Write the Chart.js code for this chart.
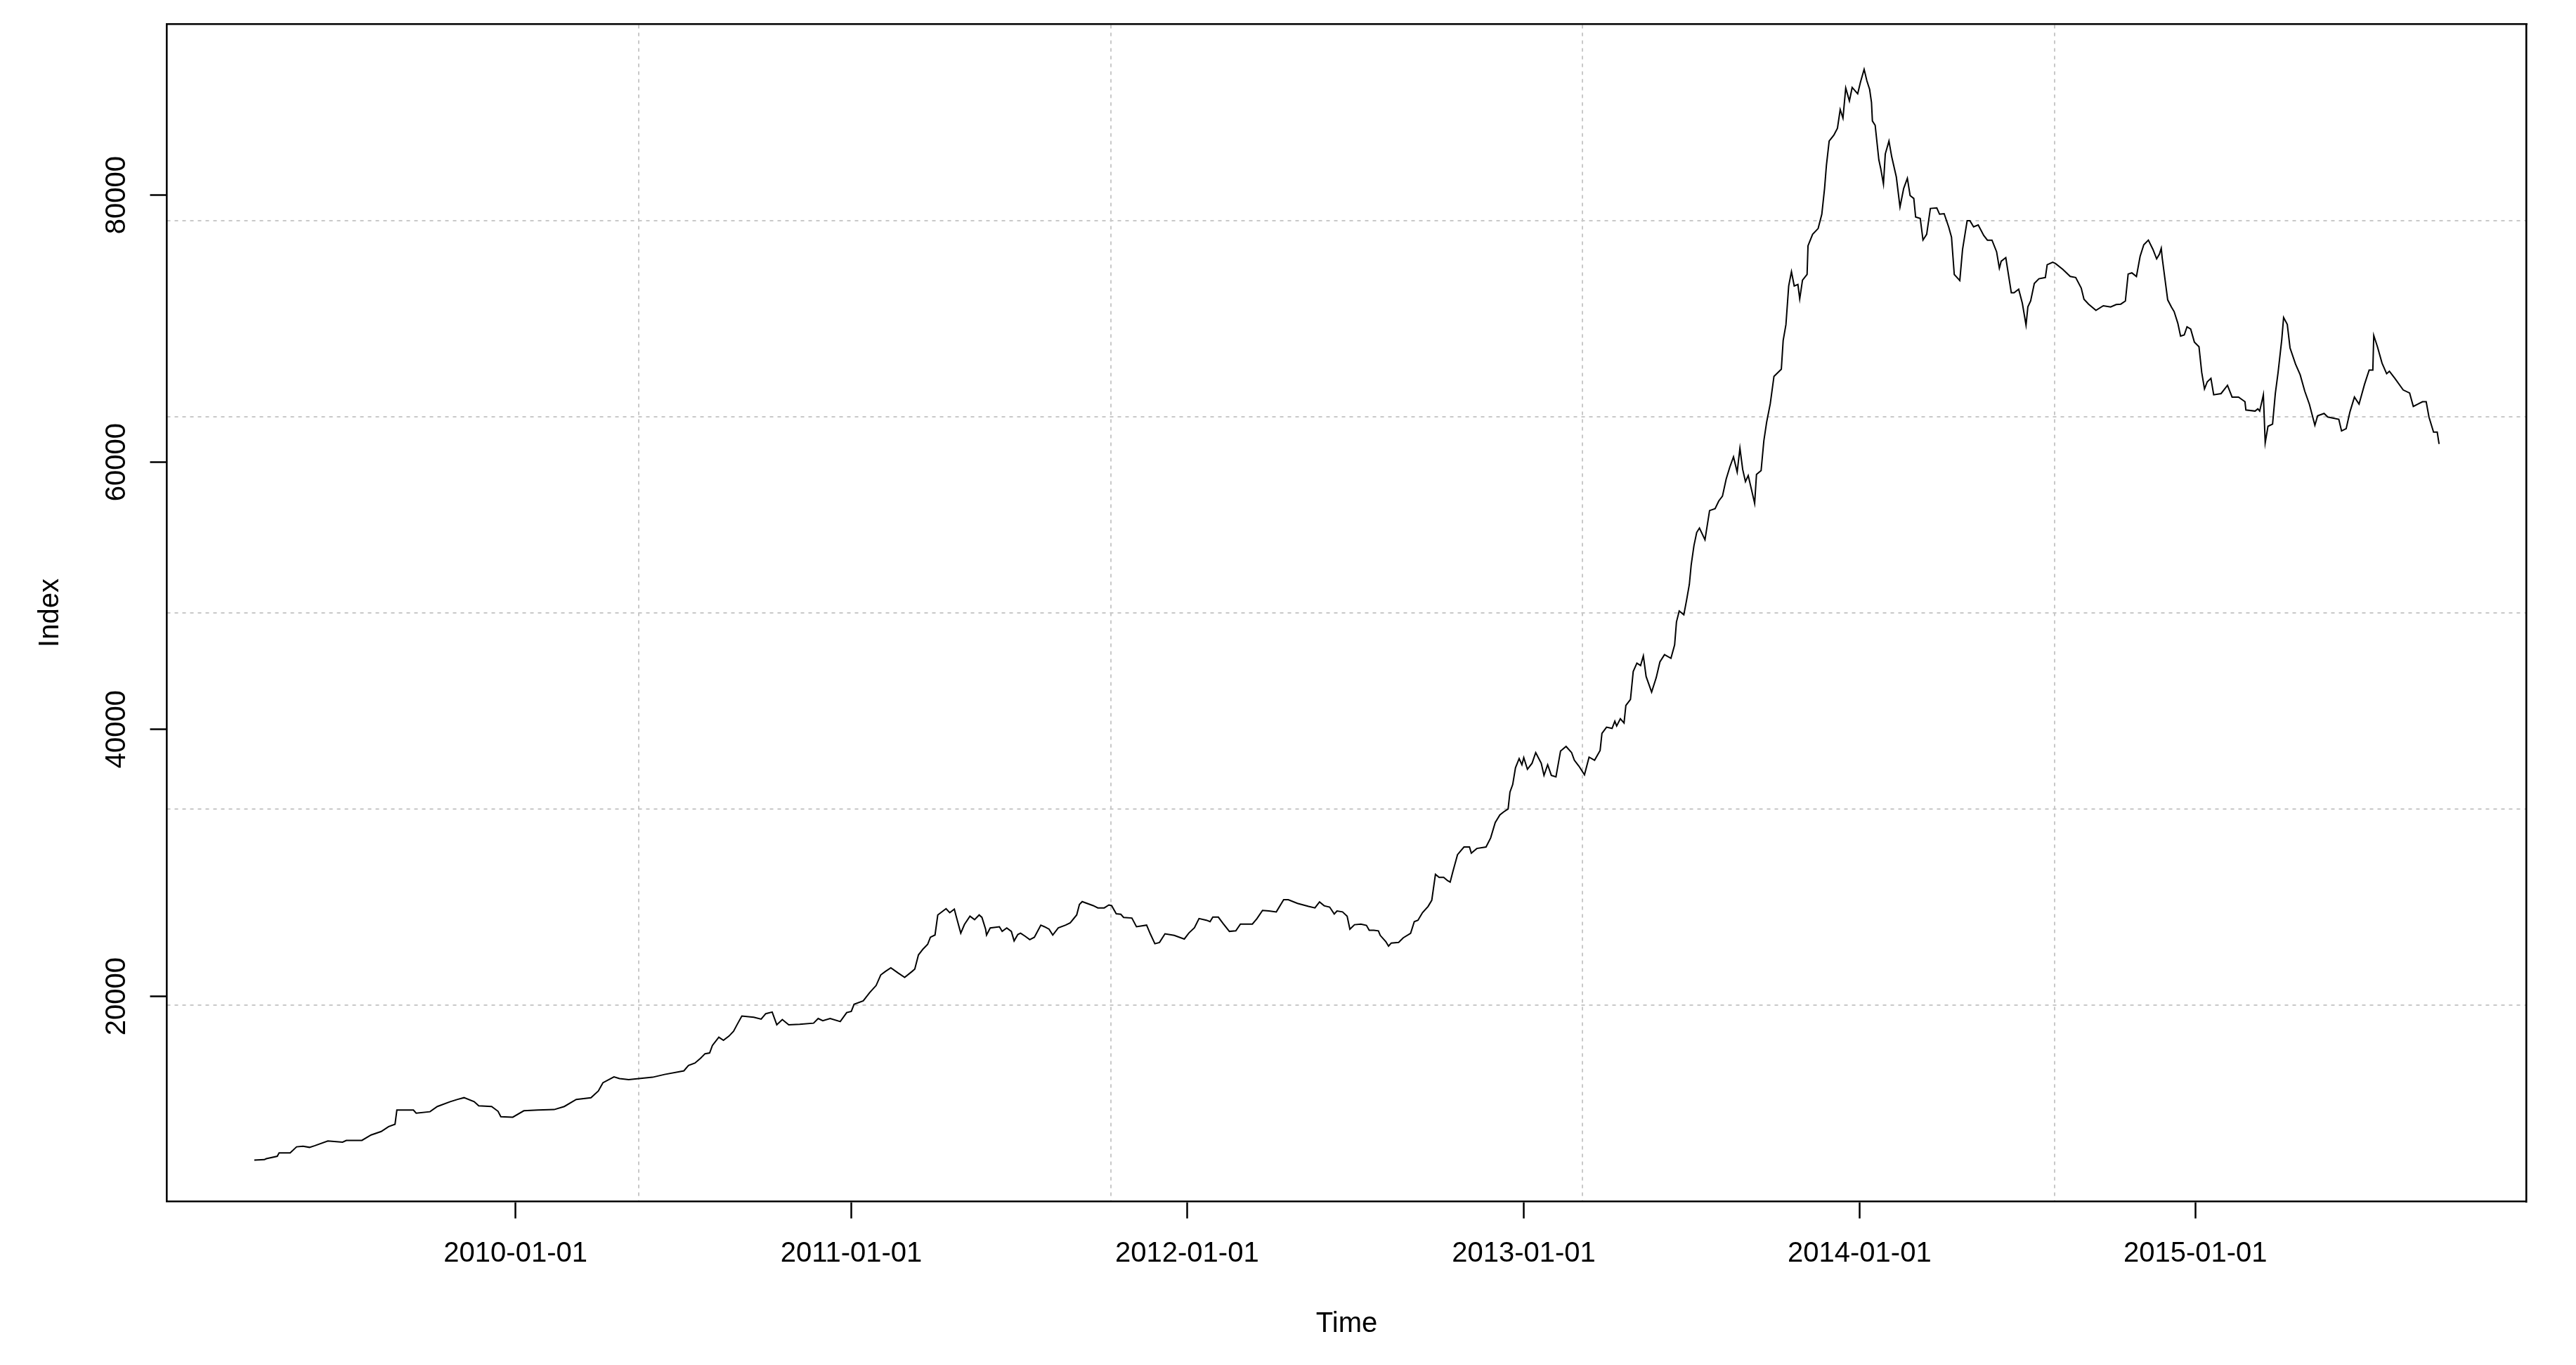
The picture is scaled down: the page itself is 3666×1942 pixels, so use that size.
<!DOCTYPE html>
<html>
<head>
<meta charset="utf-8">
<title>Index</title>
<script src="https://cdn.jsdelivr.net/npm/chart.js@4.4.1/dist/chart.umd.min.js"></script>
<style>
  html, body { margin: 0; padding: 0; background: #fff; }
  canvas { display: block; }
</style>
</head>
<body>
<canvas id="chart" width="3666" height="1942"></canvas>
<script>
// series
const dates = [
  '2009-03-23', '2009-04-03', '2009-04-05', '2009-04-17', '2009-04-19', '2009-05-01', '2009-05-08', '2009-05-15',
  '2009-05-22', '2009-05-28', '2009-06-11', '2009-06-27', '2009-07-01', '2009-07-18', '2009-07-28', '2009-08-08',
  '2009-08-16', '2009-08-23', '2009-08-25', '2009-09-12', '2009-09-15', '2009-09-30', '2009-10-08', '2009-10-22',
  '2009-10-30', '2009-11-06', '2009-11-17', '2009-11-22', '2009-12-06', '2009-12-13', '2009-12-16', '2009-12-29',
  '2010-01-10', '2010-01-25', '2010-02-12', '2010-02-23', '2010-03-08', '2010-03-24', '2010-04-01', '2010-04-06',
  '2010-04-18', '2010-04-24', '2010-05-04', '2010-05-30', '2010-06-12', '2010-07-03', '2010-07-08', '2010-07-15',
  '2010-07-21', '2010-07-26', '2010-07-31', '2010-08-03', '2010-08-10', '2010-08-15', '2010-08-21', '2010-08-26',
  '2010-08-30', '2010-09-04', '2010-09-17', '2010-09-25', '2010-09-30', '2010-10-07', '2010-10-12', '2010-10-18',
  '2010-10-25', '2010-11-06', '2010-11-21', '2010-11-26', '2010-12-01', '2010-12-09', '2010-12-20', '2010-12-27',
  '2011-01-01', '2011-01-04', '2011-01-14', '2011-01-21', '2011-01-28', '2011-02-02', '2011-02-07', '2011-02-13',
  '2011-02-21', '2011-02-28', '2011-03-08', '2011-03-11', '2011-03-15', '2011-03-20', '2011-03-25', '2011-03-28',
  '2011-04-02', '2011-04-05', '2011-04-14', '2011-04-18', '2011-04-23', '2011-04-25', '2011-04-30', '2011-05-04',
  '2011-05-10', '2011-05-15', '2011-05-20', '2011-05-23', '2011-05-27', '2011-05-28', '2011-06-01', '2011-06-11',
  '2011-06-14', '2011-06-19', '2011-06-24', '2011-06-27', '2011-07-01', '2011-07-04', '2011-07-09', '2011-07-14',
  '2011-07-19', '2011-07-26', '2011-07-30', '2011-08-04', '2011-08-08', '2011-08-14', '2011-08-22', '2011-08-27',
  '2011-09-03', '2011-09-06', '2011-09-09', '2011-09-21', '2011-09-26', '2011-10-03', '2011-10-08', '2011-10-11',
  '2011-10-16', '2011-10-21', '2011-10-24', '2011-11-02', '2011-11-07', '2011-11-18', '2011-11-22', '2011-11-27',
  '2011-12-02', '2011-12-08', '2011-12-18', '2011-12-29', '2012-01-03', '2012-01-09', '2012-01-14', '2012-01-22',
  '2012-01-26', '2012-01-29', '2012-02-04', '2012-02-09', '2012-02-16', '2012-02-23', '2012-02-28', '2012-03-12',
  '2012-03-17', '2012-03-23', '2012-03-30', '2012-04-07', '2012-04-15', '2012-04-20', '2012-04-30', '2012-05-12',
  '2012-05-19', '2012-05-24', '2012-05-29', '2012-06-04', '2012-06-09', '2012-06-12', '2012-06-18', '2012-06-23',
  '2012-06-26', '2012-07-01', '2012-07-08', '2012-07-14', '2012-07-17', '2012-07-22', '2012-07-27', '2012-07-29',
  '2012-08-04', '2012-08-07', '2012-08-10', '2012-08-18', '2012-08-23', '2012-08-31', '2012-09-04', '2012-09-08',
  '2012-09-13', '2012-09-19', '2012-09-23', '2012-09-27', '2012-10-01', '2012-10-06', '2012-10-10', '2012-10-13',
  '2012-10-16', '2012-10-21', '2012-10-28', '2012-11-03', '2012-11-05', '2012-11-11', '2012-11-21', '2012-11-26',
  '2012-12-01', '2012-12-06', '2012-12-10', '2012-12-15', '2012-12-17', '2012-12-20', '2012-12-23', '2012-12-27',
  '2012-12-30', '2013-01-01', '2013-01-05', '2013-01-10', '2013-01-14', '2013-01-20', '2013-01-23', '2013-01-27',
  '2013-01-31', '2013-02-05', '2013-02-10', '2013-02-16', '2013-02-22', '2013-02-25', '2013-03-02', '2013-03-08',
  '2013-03-13', '2013-03-19', '2013-03-25', '2013-03-27', '2013-04-01', '2013-04-07', '2013-04-10', '2013-04-12',
  '2013-04-16', '2013-04-20', '2013-04-22', '2013-04-27', '2013-04-30', '2013-05-04', '2013-05-08', '2013-05-11',
  '2013-05-14', '2013-05-20', '2013-05-25', '2013-05-29', '2013-06-03', '2013-06-10', '2013-06-14', '2013-06-16',
  '2013-06-19', '2013-06-24', '2013-06-27', '2013-06-30', '2013-07-02', '2013-07-05', '2013-07-08', '2013-07-11',
  '2013-07-17', '2013-07-22', '2013-07-28', '2013-08-01', '2013-08-05', '2013-08-09', '2013-08-13', '2013-08-17',
  '2013-08-21', '2013-08-24', '2013-08-27', '2013-08-30', '2013-09-02', '2013-09-06', '2013-09-09', '2013-09-11',
  '2013-09-16', '2013-09-19', '2013-09-22', '2013-09-26', '2013-09-30', '2013-10-08', '2013-10-10', '2013-10-13',
  '2013-10-16', '2013-10-19', '2013-10-22', '2013-10-26', '2013-10-28', '2013-10-31', '2013-11-05', '2013-11-06',
  '2013-11-11', '2013-11-17', '2013-11-21', '2013-11-24', '2013-11-26', '2013-11-29', '2013-12-04', '2013-12-08',
  '2013-12-11', '2013-12-14', '2013-12-17', '2013-12-21', '2013-12-24', '2013-12-30', '2014-01-02', '2014-01-06',
  '2014-01-09', '2014-01-12', '2014-01-14', '2014-01-15', '2014-01-18', '2014-01-22', '2014-01-24', '2014-01-27',
  '2014-01-29', '2014-02-02', '2014-02-05', '2014-02-10', '2014-02-14', '2014-02-18', '2014-02-22', '2014-02-25',
  '2014-03-01', '2014-03-03', '2014-03-08', '2014-03-11', '2014-03-15', '2014-03-19', '2014-03-26', '2014-03-29',
  '2014-04-03', '2014-04-08', '2014-04-11', '2014-04-14', '2014-04-16', '2014-04-20', '2014-04-23', '2014-04-28',
  '2014-05-01', '2014-05-05', '2014-05-10', '2014-05-16', '2014-05-20', '2014-05-25', '2014-05-30', '2014-06-02',
  '2014-06-04', '2014-06-09', '2014-06-15', '2014-06-18', '2014-06-23', '2014-06-27', '2014-07-01', '2014-07-03',
  '2014-07-06', '2014-07-10', '2014-07-15', '2014-07-22', '2014-07-24', '2014-07-30', '2014-08-02', '2014-08-10',
  '2014-08-18', '2014-08-24', '2014-08-30', '2014-09-02', '2014-09-07', '2014-09-15', '2014-09-23', '2014-10-01',
  '2014-10-07', '2014-10-12', '2014-10-17', '2014-10-20', '2014-10-24', '2014-10-29', '2014-11-02', '2014-11-06',
  '2014-11-11', '2014-11-16', '2014-11-20', '2014-11-23', '2014-11-25', '2014-11-26', '2014-11-29', '2014-12-02',
  '2014-12-06', '2014-12-09', '2014-12-13', '2014-12-16', '2014-12-20', '2014-12-23', '2014-12-27', '2014-12-31',
  '2015-01-05', '2015-01-08', '2015-01-11', '2015-01-14', '2015-01-18', '2015-01-21', '2015-01-29', '2015-02-05',
  '2015-02-10', '2015-02-17', '2015-02-24', '2015-02-25', '2015-03-07', '2015-03-10', '2015-03-12', '2015-03-16',
  '2015-03-18', '2015-03-21', '2015-03-26', '2015-03-29', '2015-04-01', '2015-04-05', '2015-04-07', '2015-04-11',
  '2015-04-14', '2015-04-20', '2015-04-25', '2015-04-30', '2015-05-05', '2015-05-11', '2015-05-14', '2015-05-21',
  '2015-05-25', '2015-06-06', '2015-06-09', '2015-06-14', '2015-06-18', '2015-06-23', '2015-06-28', '2015-07-04',
  '2015-07-09', '2015-07-13', '2015-07-14', '2015-07-18', '2015-07-23', '2015-07-28', '2015-07-31', '2015-08-06',
  '2015-08-15', '2015-08-22', '2015-08-26', '2015-08-31', '2015-09-05', '2015-09-09', '2015-09-12', '2015-09-17',
  '2015-09-21', '2015-09-23'
];

const index = [
  7750, 7780, 7850, 8030, 8290, 8290, 8740, 8780,
  8700, 8830, 9180, 9090, 9220, 9220, 9630, 9890,
  10250, 10430, 11490, 11490, 11260, 11370, 11760, 12120,
  12290, 12420, 12120, 11810, 11760, 11400, 11000, 10960,
  11440, 11490, 11530, 11760, 12290, 12420, 12920, 13540,
  13980, 13850, 13770, 13950, 14160, 14430, 14830, 15010,
  15360, 15710, 15770, 16330, 16950, 16720, 17030, 17390,
  17910, 18530, 18440, 18300, 18710, 18830, 17880, 18270,
  17880, 17910, 18000, 18350, 18180, 18350, 18120, 18790,
  18880, 19410, 19670, 20290, 20820, 21610, 21870, 22140,
  21750, 21430, 21870, 22050, 23110, 23550, 23900, 24430,
  24600, 26100, 26570, 26270, 26540, 26010, 24740, 25390,
  26010, 25750, 26100, 25920, 25040, 24600, 25130, 25220,
  24870, 25130, 24870, 24160, 24640, 24740, 24510, 24250,
  24430, 25340, 25220, 25040, 24600, 25130, 25340, 25510,
  26100, 26890, 27100, 26800, 26630, 26630, 26850, 26800,
  26190, 26150, 25920, 25870, 25220, 25340, 24690, 23950,
  24040, 24690, 24570, 24300, 24750, 25140, 25830, 25710,
  25600, 25940, 25940, 25480, 24870, 24910, 25420, 25420,
  25830, 26440, 26400, 26330, 27240, 27240, 26970, 26740,
  26630, 27080, 26790, 26690, 26170, 26400, 26330, 26010,
  25030, 25370, 25420, 25320, 24960, 24960, 24910, 24570,
  24110, 23770, 24000, 24050, 24390, 24730, 25600, 25710,
  26280, 26740, 27200, 29140, 28910, 28910, 28680, 28560,
  29360, 30620, 31190, 31190, 30730, 31080, 31190, 31870,
  33020, 33590, 33810, 34040, 35300, 35870, 37120, 37810,
  37350, 37880, 37010, 37460, 38260, 37460, 36550, 37350,
  36550, 36440, 38380, 38720, 38260, 37690, 37240, 36600,
  37920, 37690, 38420, 39700, 40160, 40070, 40610, 40250,
  40790, 40470, 41790, 42240, 44330, 44960, 44780, 45500,
  43960, 42790, 43870, 45050, 45590, 45320, 46320, 48040,
  48860, 48580, 49670, 50850, 52300, 53750, 54740, 55070,
  54200, 56380, 56520, 57100, 57460, 58730, 59640, 60400,
  59270, 61050, 59460, 58550, 59000, 57820, 56920, 59090,
  59370, 61600, 62990, 64390, 66430, 66970, 69120, 70300,
  73200, 74270, 73200, 73310, 72230, 73630, 74060, 76210,
  77070, 77500, 78570, 80500, 82220, 84050, 84480, 85010,
  86410, 85770, 88020, 87060, 88060, 87590, 88450, 89420,
  88560, 87910, 86950, 85550, 85230, 82650, 82010, 80830,
  83080, 84050, 82870, 81360, 79110, 80500, 81260, 79970,
  79750, 78360, 78250, 76640, 77070, 79000, 79040, 78570,
  78610, 77600, 76850, 74060, 73910, 73600, 75930, 78090,
  78090, 77630, 77770, 76980, 76630, 76630, 75760, 74530,
  75050, 75320, 72690, 72690, 72950, 71900, 70270, 71630,
  72070, 73390, 73740, 73830, 74790, 74970, 74880, 74440,
  73910, 73830, 73040, 72200, 71840, 71370, 71720, 71630,
  71810, 71840, 72070, 74090, 74180, 73910, 75410, 76280,
  76630, 75930, 75230, 75580, 76020, 75320, 73740, 72160,
  71630, 71280, 70410, 69440, 69530, 70140, 69970, 69000,
  68650, 66720, 65490, 66020, 66280, 65050, 65140, 65760,
  64880, 64880, 64530, 63910, 63830, 64000, 63830, 65050,
  61460, 62690, 62860, 65140, 66720, 69180, 70840, 70320,
  68560, 67340, 66550, 65320, 64350, 62770, 63480, 63650,
  63390, 63210, 62340, 62510, 63740, 64880, 64350, 65840,
  66900, 66900, 69490, 68650, 67420, 66630, 66810, 66280,
  65410, 65180, 64180, 64350, 64530, 64530, 63390, 62250,
  62250, 61370
];

const xTickDates = ['2010-01-01', '2011-01-01', '2012-01-01', '2013-01-01', '2014-01-01', '2015-01-01'];
const yTicks = [20000, 40000, 60000, 80000];
const yLimits = [4640, 92800];

const FONT = "'Liberation Sans', Arial, sans-serif";

if (dates.length !== index.length) {
  console.error('dates/index length mismatch', dates.length, index.length);
}

function toTime(d) {
  return Date.parse(d);
}

function fmtDate(v) {
  return new Date(v).toISOString().slice(0, 10);
}

// R pads the data range by 4% on each side
const times = dates.map(toTime);
const tSpan = times[times.length - 1] - times[0];
const xMin = times[0] - 0.04 * tSpan;
const xMax = times[times.length - 1] + 0.04 * tSpan;

// grid() in R: lines at equal divisions of the plot region
function equalDivisions(n) {
  return function (scale) {
    const step = (scale.max - scale.min) / n;
    const ticks = [];
    for (let i = 1; i < n; i++) {
      ticks.push({value: scale.min + i * step});
    }
    scale.ticks = ticks;
  };
}

const axisFont = {family: FONT, size: 40};
const frame = {display: true, color: '#000', width: 2.6};
const tickMarks = {drawOnChartArea: false, drawTicks: true, tickLength: 24, tickWidth: 2.5, tickColor: '#000', color: '#000'};
const dotted = {drawOnChartArea: true, drawTicks: false, color: '#c8c8c8', lineWidth: 2};

new Chart(document.getElementById('chart'), {
  type: 'line',
  data: {
    datasets: [{
      data: dates.map((d, i) => ({x: toTime(d), y: index[i]})),
      xAxisID: 'x',
      yAxisID: 'y',
      borderColor: '#000',
      borderWidth: 2,
      pointRadius: 0,
      tension: 0,
      fill: false
    }]
  },
  options: {
    responsive: false,
    animation: false,
    events: [],
    layout: {padding: {top: 34.4, right: 70.5, bottom: 0, left: 0}},
    plugins: {legend: {display: false}, tooltip: {enabled: false}},
    scales: {
      x: {
        type: 'linear',
        position: 'bottom',
        min: xMin,
        max: xMax,
        afterBuildTicks: (scale) => { scale.ticks = xTickDates.map(d => ({value: toTime(d)})); },
        afterFit: (scale) => { scale.height = 232.5; },
        ticks: {
          callback: (v) => fmtDate(v),
          autoSkip: false,
          minRotation: 0,
          maxRotation: 0,
          padding: 26,
          color: '#000',
          font: axisFont
        },
        grid: tickMarks,
        border: frame,
        title: {display: true, text: 'Time', color: '#000', font: axisFont, padding: {top: 0, bottom: 34}}
      },
      y: {
        type: 'linear',
        position: 'left',
        min: yLimits[0],
        max: yLimits[1],
        afterBuildTicks: (scale) => { scale.ticks = yTicks.map(v => ({value: v})); },
        afterFit: (scale) => { scale.width = 237.5; },
        ticks: {
          callback: (v) => String(v),
          minRotation: 90,
          maxRotation: 90,
          crossAlign: 'center',
          padding: -9,
          color: '#000',
          font: axisFont
        },
        grid: tickMarks,
        border: frame,
        title: {display: true, text: 'Index', color: '#000', font: axisFont, padding: {top: 47.6, bottom: 0}}
      },
      xg: {
        type: 'linear',
        position: 'top',
        min: xMin,
        max: xMax,
        afterBuildTicks: equalDivisions(5),
        afterFit: (scale) => { scale.height = 0; },
        ticks: {display: false},
        grid: dotted,
        border: {display: true, color: '#000', width: 2.6, dash: [5, 6]}
      },
      yg: {
        type: 'linear',
        position: 'right',
        min: yLimits[0],
        max: yLimits[1],
        afterBuildTicks: equalDivisions(6),
        afterFit: (scale) => { scale.width = 0; },
        ticks: {display: false},
        grid: dotted,
        border: {display: true, color: '#000', width: 2.6, dash: [5, 6]}
      }
    }
  }
});
</script>
</body>
</html>
